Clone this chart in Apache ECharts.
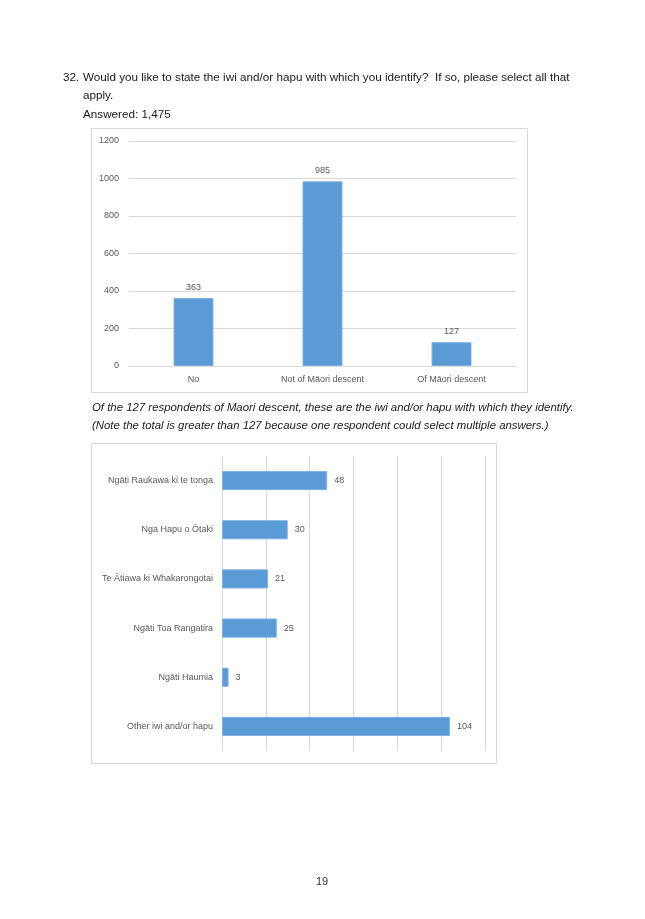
<!DOCTYPE html>
<html><head><meta charset="utf-8">
<script src="https://cdn.jsdelivr.net/npm/echarts@6/dist/echarts.min.js"></script>
<style>html,body{margin:0;padding:0;background:#fff}#c{width:645px;height:919px}</style>
</head><body><div id="c"></div>
<script>
const descentCategories = ['No', 'Not of Māori descent', 'Of Māori descent'];
const descentValues = [363, 985, 127];
const descentTicks = [0, 200, 400, 600, 800, 1000, 1200];

const iwiCategories = ['Ngāti Raukawa ki te tonga', 'Nga Hapu o Ōtaki', 'Te Ātiawa ki Whakarongotai', 'Ngāti Toa Rangatira', 'Ngāti Haumia', 'Other iwi and/or hapu'];
const iwiValues = [48, 30, 21, 25, 3, 104];

const FONT = '"Liberation Sans", "DejaVu Sans", sans-serif';
const chart = echarts.init(document.getElementById('c'), null, {renderer: 'canvas'});
const barColor = '#5B9BD5';
const labelColor = '#595959';
const gridColor = '#d9d9d9';

chart.setOption({
  backgroundColor: '#ffffff',
  animation: false,
  textStyle: {fontFamily: FONT},
  graphic: [
    {type: 'text', left: 63, top: 72, style: {text: '32.', font: '11.7px ' + FONT, fill: '#1a1a1a'}},
    {type: 'text', left: 83, top: 72, style: {text: 'Would you like to state the iwi and/or hapu with which you identify?  If so, please select all that', font: '11.7px ' + FONT, fill: '#1a1a1a'}},
    {type: 'text', left: 83, top: 90, style: {text: 'apply.', font: '11.7px ' + FONT, fill: '#1a1a1a'}},
    {type: 'text', left: 83, top: 109, style: {text: 'Answered: 1,475', font: '11.7px ' + FONT, fill: '#1a1a1a'}},
    {type: 'rect', shape: {x: 91.5, y: 128.5, width: 436, height: 264}, style: {fill: 'none', stroke: '#d9d9d9', lineWidth: 1}, z: -1},
    {type: 'text', left: 92, top: 402, style: {text: 'Of the 127 respondents of Maori descent, these are the iwi and/or hapu with which they identify.', font: 'italic 11.4px ' + FONT, fill: '#1a1a1a'}},
    {type: 'text', left: 92, top: 420, style: {text: '(Note the total is greater than 127 because one respondent could select multiple answers.)', font: 'italic 11.4px ' + FONT, fill: '#1a1a1a'}},
    {type: 'rect', shape: {x: 91.5, y: 443.5, width: 405, height: 320}, style: {fill: 'none', stroke: '#d9d9d9', lineWidth: 1}, z: -1},
    {type: 'text', left: 316, top: 876, style: {text: '19', font: '11px ' + FONT, fill: '#333'}}
  ],
  grid: [
    {left: 129, right: 129, top: 141, bottom: 553, containLabel: false},
    {left: 222, right: 160, top: 456, bottom: 168, containLabel: false}
  ],
  xAxis: [
    {gridIndex: 0, type: 'category', data: descentCategories,
     axisLine: {lineStyle: {color: gridColor}}, axisTick: {show: false},
     axisLabel: {color: labelColor, fontSize: 9, margin: 9, fontFamily: FONT}},
    {gridIndex: 1, type: 'value', min: 0, max: 120, interval: 20,
     axisLine: {show: false}, axisTick: {show: false}, axisLabel: {show: false},
     splitLine: {show: true, lineStyle: {color: gridColor}}}
  ],
  yAxis: [
    {gridIndex: 0, type: 'value', min: descentTicks[0], max: descentTicks[descentTicks.length - 1], interval: 200,
     axisLine: {show: false}, axisTick: {show: false},
     axisLabel: {color: labelColor, fontSize: 9, margin: 10, fontFamily: FONT, formatter: v => String(v)},
     splitLine: {lineStyle: {color: gridColor}}},
    {gridIndex: 1, type: 'category', data: iwiCategories, inverse: true,
     axisLine: {show: true, lineStyle: {color: gridColor}}, axisTick: {show: false},
     axisLabel: {color: labelColor, fontSize: 9, margin: 9, fontFamily: FONT}}
  ],
  series: [
    {type: 'bar', xAxisIndex: 0, yAxisIndex: 0, data: descentValues, barWidth: '31%',
     itemStyle: {color: barColor, borderColor: '#7fb2e5', borderWidth: 1},
     label: {show: true, position: 'top', distance: 6, color: labelColor, fontSize: 9, fontFamily: FONT}},
    {type: 'bar', xAxisIndex: 1, yAxisIndex: 1, data: iwiValues, barWidth: '39%',
     itemStyle: {color: barColor, borderColor: '#7fb2e5', borderWidth: 1},
     label: {show: true, position: 'right', distance: 7, color: labelColor, fontSize: 9, fontFamily: FONT}}
  ]
});
</script>
</body></html>
